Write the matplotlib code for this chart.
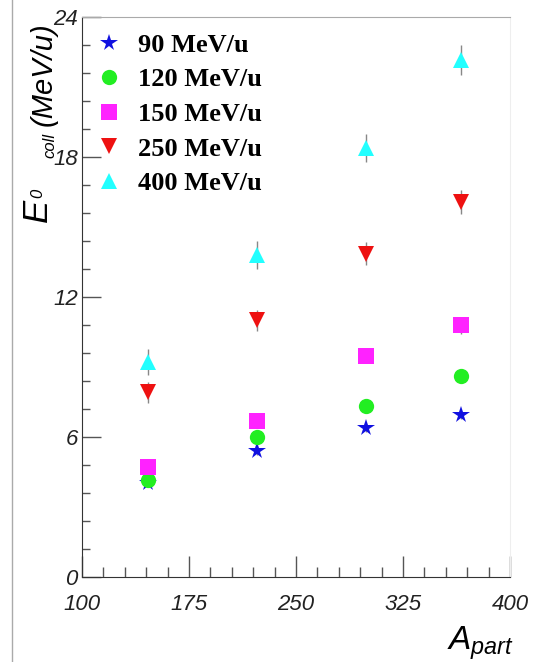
import numpy as np
import matplotlib
matplotlib.use("Agg")
import matplotlib.pyplot as plt
from matplotlib.lines import Line2D

plt.rcParams['mathtext.fontset'] = 'custom'
plt.rcParams['mathtext.it'] = 'Liberation Sans:italic'
plt.rcParams['mathtext.rm'] = 'Liberation Sans:italic'

# A_part values and E0_coll per beam energy
apart = [146, 223, 299, 366]
labels = ['90 MeV/u', '120 MeV/u', '150 MeV/u', '250 MeV/u', '400 MeV/u']
e90 = [4.02, 5.38, 6.38, 6.94]
e120 = [4.17, 6.01, 7.34, 8.62]
e150 = [4.71, 6.70, 9.46, 10.78]
e250 = [7.92, 11.0, 13.86, 16.07]
e400 = [9.22, 13.8, 18.39, 22.17]
err90 = [0.15, 0.15, 0.15, 0.15]
err120 = [0.2, 0.2, 0.2, 0.2]
err150 = [0.25, 0.25, 0.3, 0.35]
err250 = [0.45, 0.45, 0.5, 0.5]
err400 = [0.55, 0.6, 0.6, 0.65]

series = [e90, e120, e150, e250, e400]
errs = [err90, err120, err150, err250, err400]
markers = ['*', 'o', 's', 'v', '^']
colors = ['#1010e0', '#22ee22', '#ff22ff', '#ee1111', '#22ffff']
msizes = [13, 11, 11, 11, 11]

W, H = 533, 662
fig = plt.figure(figsize=(W/100, H/100), dpi=100)
ax = fig.add_axes([82/W, 1-577/H, 428/W, 560/H])

handles = []
for y, e, m, c, s in zip(series, errs, markers, colors, msizes):
    ax.errorbar(apart, y, yerr=e, fmt='none', ecolor='#888888', elinewidth=1, capsize=0)
    h, = ax.plot(apart, y, linestyle='none', marker=m, color=c, markersize=s, markeredgewidth=0)
    handles.append(h)

ax.set_xlim(100, 400)
ax.set_ylim(0, 24)
ax.set_xticks(np.arange(100, 401, 75))
ax.set_xticks(np.arange(100, 400, 15), minor=True)
ax.set_yticks(np.arange(0, 25, 6))
ax.set_yticks(np.arange(0, 24, 1.2), minor=True)
ax.tick_params(axis='x', which='major', direction='in', length=15, width=1, color='#555555', pad=12)
ax.tick_params(axis='x', which='minor', direction='in', length=7, width=1, color='#555555')
ax.tick_params(axis='y', which='major', direction='in', length=14, width=1, color='#555555', pad=3)
ax.tick_params(axis='y', which='minor', direction='in', length=6, width=1, color='#555555')
for lab in ax.get_xticklabels() + ax.get_yticklabels():
    lab.set_fontfamily('Liberation Sans')
    lab.set_fontstyle('italic')
    lab.set_fontsize(16)
    lab.set_color('#222222')

ax.spines['left'].set_color('#333333')
ax.spines['bottom'].set_color('#333333')
ax.spines['top'].set_color('#aaaaaa')
ax.spines['right'].set_color('#eeeeee')

# y title built from pieces (big E, small super/subscripts), ROOT style
ytitle = dict(family='Liberation Sans', style='italic', rotation=90,
              rotation_mode='anchor', va='baseline', color='black')
fig.text(47/W, 1-222/H, 'E', fontsize=25, ha='left', **ytitle)
fig.text(42/W, 1-198/H, '0', fontsize=12, ha='left', **ytitle)
fig.text(54/W, 1-158/H, 'coll', fontsize=12, ha='left', **ytitle)
fig.text(52/W, 1-22/H, '(MeV/u)', fontsize=21, ha='right', **ytitle)

ax.set_xlabel(r'$A_{part}$', fontsize=24, loc='right')
ax.xaxis.set_label_coords(1.01, -0.085)

leg = ax.legend(handles, labels, loc='upper left', bbox_to_anchor=(-0.005, 0.999),
                frameon=False, handlelength=1.0, handletextpad=0.6, labelspacing=0.42,
                borderaxespad=0.2, prop={'family': 'Liberation Serif', 'weight': 'bold', 'size': 19})

fig.add_artist(Line2D([12/W, 12/W], [0, 1], transform=fig.transFigure, color='#aaaaaa', lw=1))

fig.savefig('out.png', dpi=100)
